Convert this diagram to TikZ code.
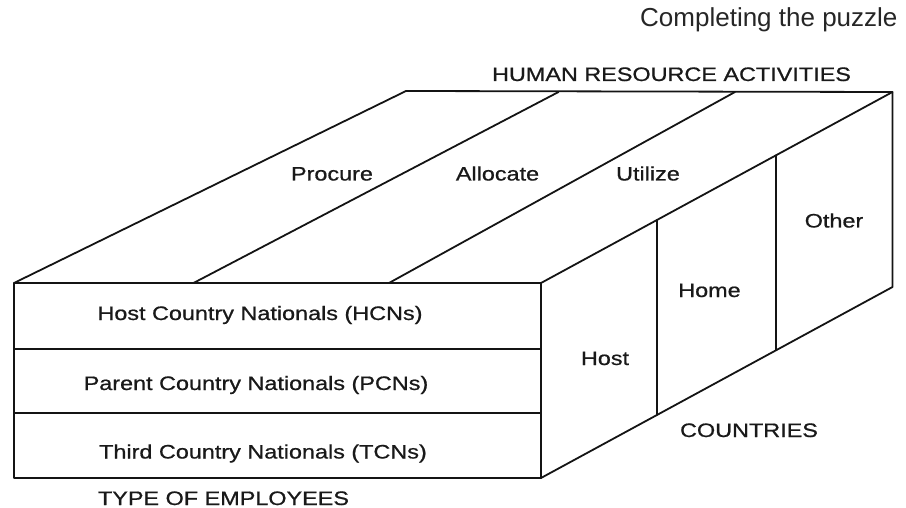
\documentclass[tikz,border=0pt]{standalone}
\usepackage{fontspec}
\setmainfont{Liberation Sans}
\newfontfamily\labelfont[FakeBold=0.7]{Liberation Sans}
\usetikzlibrary{calc}

% labels inside the box are set a little wide
\newcommand{\widetext}[1]{\scalebox{1.2}[1]{#1}}

\begin{document}
\begin{tikzpicture}[x=1pt,y=-1pt,
  edge/.style={line width=1.8pt, draw=black!92, line join=round, line cap=round},
  boxlabel/.style={anchor=base, inner sep=0pt, text=black!90,
    font=\labelfont\fontsize{19.5}{21}\selectfont},
  titlelabel/.style={anchor=base west, inner sep=0pt, text=black!85,
    font=\fontsize{26}{28}\selectfont}]

\useasboundingbox (0,0) rectangle (906,508);

% corners of the box
\coordinate (FTL) at (14,283);
\coordinate (FTR) at (541,283);
\coordinate (FBR) at (541,478);
\coordinate (FBL) at (14,478);
\coordinate (BTL) at (406,91);
\coordinate (BTR) at (892.5,92);
\coordinate (BBR) at (892.5,287);

% row dividers on the front face
\coordinate (R1L) at (14,349);   \coordinate (R1R) at (541,349);
\coordinate (R2L) at (14,413);   \coordinate (R2R) at (541,413);

% activity dividers on the top face
\coordinate (A1F) at (193.5,283); \coordinate (A1B) at (558.5,92);
\coordinate (A2F) at (389,283);   \coordinate (A2B) at (735,92);

% country dividers on the side face
\coordinate (C1T) at ($(FTR)!0.330!(BTR)$);
\coordinate (C1B) at ($(FBR)!0.330!(BBR)$);
\coordinate (C2T) at ($(FTR)!0.6686!(BTR)$);
\coordinate (C2B) at ($(FBR)!0.6686!(BBR)$);

% outline and front edges
\draw[edge] (FBL) -- (FTL) -- (BTL) -- (BTR) -- (BBR) -- (FBR) -- cycle;
\draw[edge] (FTL) -- (FTR) -- (FBR);
\draw[edge] (FTR) -- (BTR);

\draw[edge] (R1L) -- (R1R);
\draw[edge] (R2L) -- (R2R);
\draw[edge] (A1F) -- (A1B);
\draw[edge] (A2F) -- (A2B);
\draw[edge] (C1T) -- (C1B);
\draw[edge] (C2T) -- (C2B);

% title
\node[titlelabel] (title) at (640,27) {Completing the puzzle};

% axis labels
\node[boxlabel] (hra) at (671.5,81) {\widetext{HUMAN RESOURCE ACTIVITIES}};
\node[boxlabel] (types) at (223.5,505) {\widetext{TYPE OF EMPLOYEES}};
\node[boxlabel] (countries) at (749,437) {\widetext{COUNTRIES}};

% activities
\node[boxlabel] (procure) at (332,180.5) {\widetext{Procure}};
\node[boxlabel] (allocate) at (497.5,180.5) {\widetext{Allocate}};
\node[boxlabel] (utilize) at (648,180.5) {\widetext{Utilize}};

% employee types
\node[boxlabel] (hcn) at (260,320) {\widetext{Host Country Nationals (HCNs)}};
\node[boxlabel] (pcn) at (256,390) {\widetext{Parent Country Nationals (PCNs)}};
\node[boxlabel] (tcn) at (263,458.5) {\widetext{Third Country Nationals (TCNs)}};

% countries
\node[boxlabel] (host) at (605,365) {\widetext{Host}};
\node[boxlabel] (home) at (709.5,297) {\widetext{Home}};
\node[boxlabel] (other) at (834,227.5) {\widetext{Other}};

\end{tikzpicture}
\end{document}
